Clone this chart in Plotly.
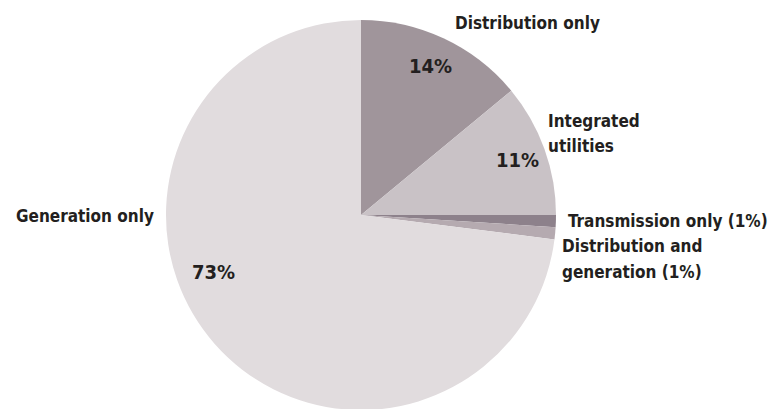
import plotly.graph_objects as go

categories = ["Distribution only", "Integrated utilities", "Transmission only",
              "Distribution and generation", "Generation only"]
values = [14, 11, 1, 1, 73]
colors = ["#a0959b", "#c9c2c6", "#8d818b", "#b5aab0", "#e1dcde"]

FONT = "DejaVu Sans Condensed, Liberation Sans Narrow, sans-serif"
W, H = 778, 409
OFF = 8  # page body margin

def px(x):
    return (x - OFF) / W

def py(y):
    return 1 - (y - OFF) / H

CX, CY, R = 361, 215, 195

fig = go.Figure(go.Pie(
    labels=categories, values=values, sort=False, direction="clockwise",
    rotation=0, textinfo="none", hoverinfo="label+percent",
    marker=dict(colors=colors, line=dict(width=0)),
    domain=dict(x=[px(CX - R), px(CX + R)], y=[py(CY + R), py(CY - R)]),
    showlegend=False,
))

def ann(text, x, y, xanchor="center", size=17, align="left"):
    fig.add_annotation(text=text, x=px(x), y=py(y), xref="paper", yref="paper",
                       xanchor=xanchor, yanchor="middle", showarrow=False, align=align,
                       font=dict(family=FONT, size=size, color="#231f20"))

ann("<b>Distribution only</b>", 527, 23)
ann("<b>14%</b>", 430, 66, size=20)
ann("<b>Integrated</b>", 546, 121, xanchor="left")
ann("<b>utilities</b>", 546, 146, xanchor="left")
ann("<b>11%</b>", 517, 160, size=20)
ann("<b>Transmission only (1%)</b>", 566, 221, xanchor="left")
ann("<b>Distribution and</b>", 560, 246, xanchor="left")
ann("<b>generation (1%)</b>", 560, 272, xanchor="left")
ann("<b>Generation only</b>", 14, 216, xanchor="left")
ann("<b>73%</b>", 213, 272, size=20)

fig.update_layout(width=W, height=H, margin=dict(l=0, r=0, t=0, b=0),
                  paper_bgcolor="white", plot_bgcolor="white")
fig.write_html("out.html")
